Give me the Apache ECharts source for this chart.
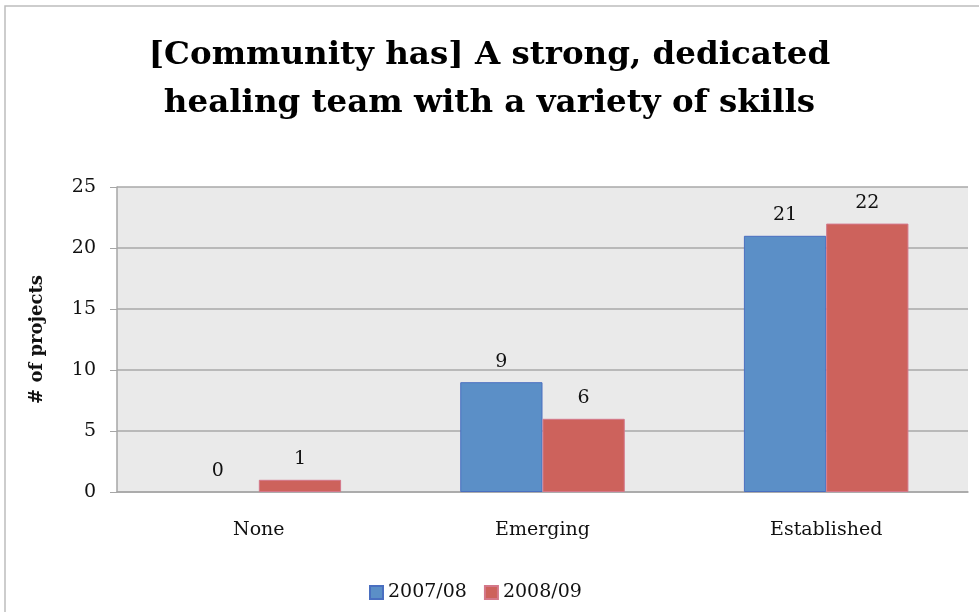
<!DOCTYPE html>
<html>
<head>
<meta charset="utf-8">
<script src="https://cdn.jsdelivr.net/npm/echarts@6/dist/echarts.min.js"></script>
<style>
  html, body { margin: 0; padding: 0; background: #fff; }
  #chart { width: 979px; height: 612px; }
</style>
</head>
<body>
<div id="chart"></div>
<script>
// Categories, series and axis ticks
const categories = ['None', 'Emerging', 'Established'];
const seriesNames = ['2007/08', '2008/09'];
const values0708 = [0, 9, 21];
const values0809 = [1, 6, 22];
const yTicks = [0, 5, 10, 15, 20, 25];

const serif = '"DejaVu Serif", "Liberation Serif", serif';
const chart = echarts.init(document.getElementById('chart'), null, { renderer: 'canvas' });

const labelStyle = {
  show: true,
  position: 'top',
  distance: 11,
  color: '#111',
  fontFamily: serif,
  fontSize: 19
};

// zero-height bars get no outline so only their label shows
const asItems = (vals) => vals.map(v => (v === 0 ? { value: v, itemStyle: { borderWidth: 0 } } : v));

chart.setOption({
  animation: false,
  backgroundColor: '#fff',
  title: {
    text: '[Community has] A strong, dedicated\nhealing team with a variety of skills',
    left: 'center',
    top: 27,
    textStyle: {
      fontFamily: serif,
      fontWeight: 'bold',
      fontSize: 32.5,
      lineHeight: 48,
      color: '#000'
    }
  },
  legend: {
    data: seriesNames,
    bottom: 5,
    left: 364,
    itemWidth: 13,
    itemHeight: 13,
    itemGap: 17,
    textStyle: { fontFamily: serif, fontSize: 19, color: '#111' },
    icon: 'rect'
  },
  grid: {
    left: 117,
    right: 11,
    top: 187,
    bottom: 120,
    show: true,
    backgroundColor: '#EAEAEA',
    borderWidth: 0
  },
  xAxis: {
    type: 'category',
    data: categories,
    axisLine: { lineStyle: { color: '#A6A6A6', width: 1.5 } },
    axisTick: { show: false },
    axisLabel: { fontFamily: serif, fontSize: 19, color: '#111', margin: 29 }
  },
  yAxis: {
    type: 'value',
    min: yTicks[0],
    max: yTicks[yTicks.length - 1],
    interval: 5,
    name: '# of projects',
    nameLocation: 'middle',
    nameGap: 71,
    nameTextStyle: { fontFamily: serif, fontWeight: 'bold', fontSize: 18, color: '#111' },
    axisLine: { show: true, lineStyle: { color: '#A6A6A6', width: 1.5 } },
    axisTick: { show: true, length: 7, lineStyle: { color: '#A6A6A6' } },
    splitLine: { lineStyle: { color: '#A9A9A9', width: 1.5 } },
    axisLabel: { fontFamily: serif, fontSize: 19, color: '#111', margin: 21 }
  },
  series: [
    {
      name: seriesNames[0],
      type: 'bar',
      data: asItems(values0708),
      barGap: '0%',
      barCategoryGap: '42%',
      itemStyle: { color: '#5B8FC7', borderColor: '#4A6FC0', borderWidth: 1 },
      label: labelStyle
    },
    {
      name: seriesNames[1],
      type: 'bar',
      data: asItems(values0809),
      itemStyle: { color: '#CD625C', borderColor: '#D4788A', borderWidth: 1 },
      label: labelStyle
    }
  ],
  graphic: [
    {
      type: 'polyline',
      shape: { points: [[5, 612], [5, 6], [979, 6]] },
      style: { stroke: '#BDBDBD', lineWidth: 1.5, fill: null }
    }
  ]
});
</script>
</body>
</html>
